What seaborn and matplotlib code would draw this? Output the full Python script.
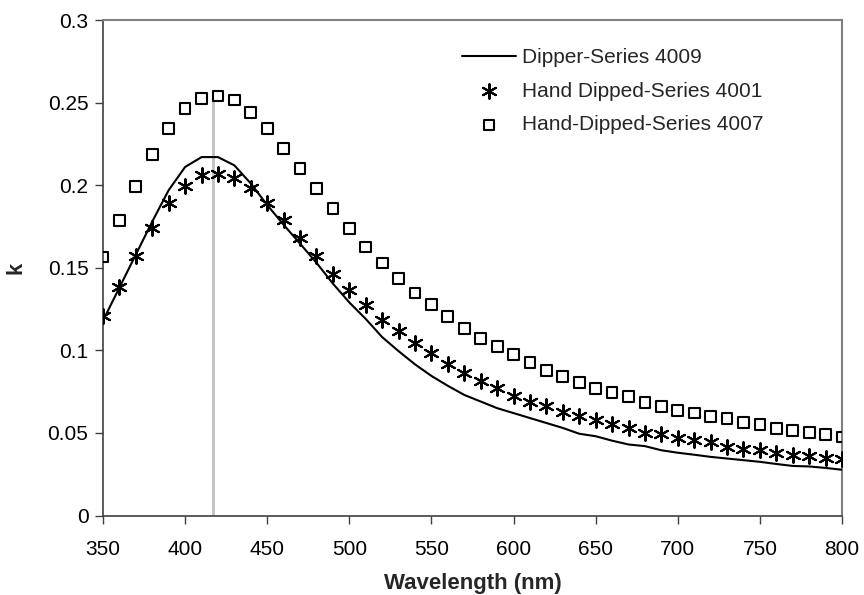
import numpy as np
import pandas as pd
import matplotlib
matplotlib.use("Agg")
import matplotlib.pyplot as plt
import seaborn as sns

wavelength = list(range(350, 801, 10))

dipper_4009 = [0.118, 0.138, 0.158, 0.178, 0.197, 0.211, 0.217, 0.217, 0.212, 0.201,
               0.188, 0.176, 0.1646, 0.153, 0.1404, 0.129, 0.119, 0.108, 0.0995, 0.0915,
               0.0845, 0.0785, 0.073, 0.069, 0.065, 0.062, 0.059, 0.056, 0.053, 0.0495,
               0.048, 0.0453, 0.043, 0.042, 0.0395, 0.038, 0.0368, 0.0355, 0.0345, 0.0335,
               0.0325, 0.0312, 0.030, 0.0297, 0.0288, 0.0277]

hand_4001 = [0.1206, 0.1384, 0.157, 0.1743, 0.189, 0.1994, 0.206, 0.207, 0.2044, 0.1984,
             0.189, 0.1788, 0.168, 0.157, 0.1465, 0.1368, 0.1273, 0.1186, 0.1115, 0.1044,
             0.0984, 0.0919, 0.0862, 0.0812, 0.0774, 0.0723, 0.0687, 0.066, 0.0626, 0.0602,
             0.0576, 0.0552, 0.0531, 0.0501, 0.0491, 0.0469, 0.0455, 0.0447, 0.0417, 0.0404,
             0.0394, 0.0378, 0.0367, 0.0359, 0.035, 0.0343]

hand_4007 = [0.1565, 0.1786, 0.199, 0.2186, 0.2343, 0.2465, 0.2525, 0.254, 0.2515, 0.244,
             0.2343, 0.2224, 0.210, 0.198, 0.1859, 0.1737, 0.1626, 0.1529, 0.1434, 0.1347,
             0.1277, 0.1206, 0.1131, 0.1071, 0.1024, 0.0976, 0.0927, 0.0879, 0.0842, 0.0806,
             0.0768, 0.0745, 0.0721, 0.0685, 0.0661, 0.0636, 0.062, 0.060, 0.0586, 0.0561,
             0.055, 0.0525, 0.0513, 0.0501, 0.0489, 0.0475]

peak_wavelength = 417
peak_line_top = 0.2515

labels = ["Dipper-Series 4009", "Hand Dipped-Series 4001", "Hand-Dipped-Series 4007"]
x_ticks = [350, 400, 450, 500, 550, 600, 650, 700, 750, 800]
y_ticks = [0, 0.05, 0.1, 0.15, 0.2, 0.25, 0.3]
y_tick_labels = ["0", "0.05", "0.1", "0.15", "0.2", "0.25", "0.3"]

df = pd.DataFrame({"wl": wavelength, "d4009": dipper_4009,
                   "h4001": hand_4001, "h4007": hand_4007})

sns.set_style("ticks")
plt.rcParams["font.family"] = ["Liberation Sans", "DejaVu Sans"]

fig = plt.figure(figsize=(8.64, 5.95), dpi=100)
ax = fig.add_axes([103 / 864, 1 - 515.5 / 595, (842 - 103) / 864, (515.5 - 20) / 595])

ax.vlines(peak_wavelength, 0, peak_line_top, color="#c0c0c0", linewidth=2, zorder=1)

sns.lineplot(data=df, x="wl", y="d4009", ax=ax, color="black", linewidth=1.5,
             label=labels[0], zorder=3)
sns.scatterplot(data=df, x="wl", y="h4001", ax=ax, marker=(6, 2, 0), s=110,
                color="black", linewidth=1.5, label=labels[1], zorder=4)
sns.scatterplot(data=df, x="wl", y="h4007", ax=ax, marker="s", s=60,
                facecolor="none", edgecolor="black", linewidth=1.5,
                label=labels[2], zorder=4)

ax.set_xlim(350, 800)
ax.set_ylim(0, 0.3)
ax.set_xticks(x_ticks)
ax.set_yticks(y_ticks)
ax.set_yticklabels(y_tick_labels)
ax.tick_params(axis="both", direction="out", length=5.5, width=1, labelsize=15,
               colors="#404040", labelcolor="black")
ax.tick_params(axis="x", pad=12)
ax.tick_params(axis="y", pad=5)

for side in ["left", "bottom"]:
    ax.spines[side].set_color("#404040")
    ax.spines[side].set_linewidth(1.2)
for side in ["top", "right"]:
    ax.spines[side].set_visible(True)
    ax.spines[side].set_color("#808080")
    ax.spines[side].set_linewidth(1.5)

ax.set_xlabel("Wavelength (nm)", fontsize=16, fontweight="bold", labelpad=10)
ax.set_ylabel("k", fontsize=16, fontweight="bold", labelpad=15)

leg = ax.legend(loc="upper left", bbox_to_anchor=(0.4858, 0.943), frameon=False,
                fontsize=15, handlelength=2.6, handletextpad=0.3, labelspacing=0.7,
                borderpad=0, borderaxespad=0)

fig.savefig("out.png", dpi=100)
